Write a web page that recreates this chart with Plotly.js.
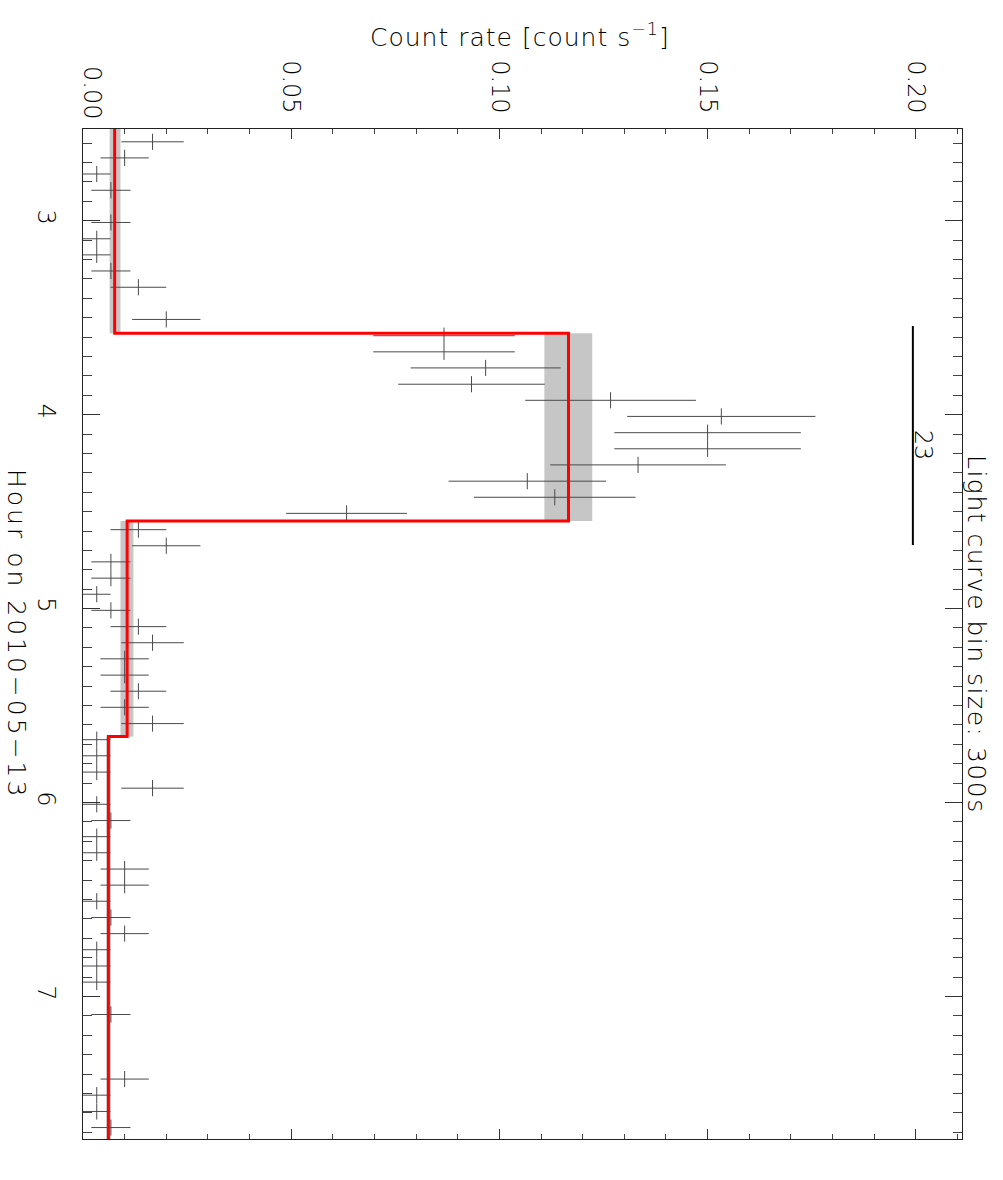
<!DOCTYPE html>
<html>
<head>
<meta charset="utf-8">
<script src="https://cdn.plot.ly/plotly-3.0.1.min.js"></script>
<style>
  html, body { margin: 0; padding: 0; background: #fff; }
  #chart { width: 1003px; height: 1180px; }
</style>
</head>
<body>
<div id="chart"></div>
<script>
// ---- Light-curve bins (hour of day, count rate, 1-sigma error) ----
const binHour = [
  2.593, 2.676, 2.759, 2.843, 3.009, 3.093, 3.176, 3.259, 3.343, 3.509,
  3.593, 3.676, 3.759, 3.843, 3.926, 4.009, 4.093, 4.176, 4.259, 4.343, 4.426, 4.509,
  4.593, 4.676, 4.759, 4.843, 4.926, 5.009, 5.093, 5.176, 5.259, 5.343, 5.426, 5.509, 5.593,
  5.676, 5.759, 5.843, 5.926, 6.009, 6.093, 6.176, 6.259, 6.343, 6.426, 6.509, 6.593,
  6.676, 6.759, 6.843, 6.926, 7.093, 7.426, 7.509, 7.593, 7.676
];
const binRate = [
  0.0167, 0.0100, 0.0033, 0.0067, 0.0067, 0.0033, 0.0033, 0.0067, 0.0133, 0.0200,
  0.0867, 0.0867, 0.0967, 0.0933, 0.1267, 0.1533, 0.1500, 0.1500, 0.1333, 0.1067, 0.1133, 0.0633,
  0.0133, 0.0200, 0.0067, 0.0067, 0.0033, 0.0067, 0.0133, 0.0167, 0.0100, 0.0100, 0.0133, 0.0100, 0.0167,
  0.0033, 0.0033, 0.0033, 0.0167, 0.0033, 0.0067, 0.0033, 0.0033, 0.0100, 0.0100, 0.0033, 0.0067,
  0.0100, 0.0033, 0.0033, 0.0033, 0.0067, 0.0100, 0.0033, 0.0033, 0.0067
];
const binRateErr = [
  0.0075, 0.0058, 0.0033, 0.0047, 0.0047, 0.0033, 0.0033, 0.0047, 0.0067, 0.0082,
  0.0170, 0.0170, 0.0180, 0.0176, 0.0205, 0.0226, 0.0224, 0.0224, 0.0211, 0.0189, 0.0194, 0.0145,
  0.0067, 0.0082, 0.0047, 0.0047, 0.0033, 0.0047, 0.0067, 0.0075, 0.0058, 0.0058, 0.0067, 0.0058, 0.0075,
  0.0033, 0.0033, 0.0033, 0.0075, 0.0033, 0.0047, 0.0033, 0.0033, 0.0058, 0.0058, 0.0033, 0.0047,
  0.0058, 0.0033, 0.0033, 0.0033, 0.0047, 0.0058, 0.0033, 0.0033, 0.0047
];
const binHalfWidthHours = 0.0417;   // 300 s bins

// ---- Bayesian blocks (start, end, rate, rate band) ----
const blockStart = [2.40, 3.580, 4.548, 5.659];
const blockEnd   = [3.580, 4.548, 5.659, 7.90];
const blockRate  = [0.0076, 0.1166, 0.0106, 0.0061];
const blockLo    = [0.0064, 0.1108, 0.0090, 0.0056];
const blockHi    = [0.0090, 0.1223, 0.0121, 0.0067];

// ---- Flare marker ----
const flareBarRate = 0.1993;
const flareBarStart = 3.543;
const flareBarEnd = 4.672;
const flareLabel = '23';
const flareLabelRate = 0.2018;
const flareLabelHour = 4.157;

// ---- Ticks / texts / ranges ----
const rateZero = 0;
const rateZeroLabel = '0.00';
const rateTickVals = [0.05, 0.10, 0.15, 0.20];
const rateTickText = ['0.05', '0.10', '0.15', '0.20'];
const xTitle = 'Count rate [count s<sup>−1</sup>]';
const yTitle = 'Hour on 2010−05−13';
const binText = 'Light curve bin size: 300s';
const rateRange = [0, 0.2111];
const hourRange = [7.735, 2.527];

const FONT = 'DejaVu Sans';

// step line from the blocks
const stepX = [], stepY = [];
for (let i = 0; i < blockRate.length; i++) {
  stepX.push(blockRate[i], blockRate[i]);
  stepY.push(blockStart[i], blockEnd[i]);
}

const traces = [
  {
    type: 'scatter', mode: 'markers',
    x: binRate, y: binHour,
    marker: { size: 1, color: 'rgba(0,0,0,0)' },
    error_x: { type: 'data', array: binRateErr, symmetric: true, color: '#4a4a4a', thickness: 1, width: 0 },
    error_y: { type: 'constant', value: binHalfWidthHours, color: '#4a4a4a', thickness: 1, width: 0 },
    hoverinfo: 'skip'
  },
  {
    type: 'scatter', mode: 'lines',
    x: stepX, y: stepY,
    line: { color: '#ff0000', width: 3 },
    hoverinfo: 'skip'
  }
];

const shapes = blockLo.map((lo, i) => ({
  type: 'rect', xref: 'x', yref: 'y', layer: 'below',
  x0: lo, x1: blockHi[i], y0: blockStart[i], y1: blockEnd[i],
  fillcolor: '#c6c6c6', line: { width: 0 }
}));
shapes.push({
  type: 'line', xref: 'x', yref: 'y',
  x0: flareBarRate, x1: flareBarRate, y0: flareBarStart, y1: flareBarEnd,
  line: { color: '#000', width: 2 }
});

const tickFont = { family: FONT, size: 24, color: '#000', weight: 200 };

const layout = {
  width: 1003, height: 1180,
  margin: { l: 83, r: 41, t: 129, b: 41 },
  paper_bgcolor: '#fff', plot_bgcolor: '#fff',
  showlegend: false,
  font: { family: FONT, size: 24, color: '#000', weight: 200 },
  xaxis: {
    range: rateRange, side: 'top',
    tickmode: 'array', tickvals: rateTickVals, ticktext: rateTickText, tickangle: 90,
    ticks: 'inside', ticklen: 10, tickwidth: 1, tickcolor: '#333',
    tickfont: tickFont, ticklabelstandoff: 6,
    minor: { dtick: 0.01, tick0: 0, ticks: 'inside', ticklen: 5, tickwidth: 1, tickcolor: '#444', showgrid: false },
    showline: true, linecolor: '#222', linewidth: 1, mirror: 'allticks',
    showgrid: false, zeroline: false, fixedrange: true
  },
  yaxis: {
    range: hourRange,
    tick0: 0, dtick: 1, tickangle: 90,
    ticks: 'inside', ticklen: 17, tickwidth: 1, tickcolor: '#333',
    tickfont: tickFont, ticklabelstandoff: 15,
    minor: { dtick: 0.1, ticks: 'inside', ticklen: 9, tickwidth: 1, tickcolor: '#444', showgrid: false },
    showline: true, linecolor: '#222', linewidth: 1, mirror: 'allticks',
    showgrid: false, zeroline: false, fixedrange: true
  },
  shapes: shapes,
  annotations: [
    {
      xref: 'x', yref: 'paper', x: rateZero, y: 1, xshift: 9, yshift: 37,
      xanchor: 'center', yanchor: 'middle', showarrow: false, textangle: 90,
      text: rateZeroLabel, font: tickFont
    },
    {
      xref: 'paper', yref: 'paper', x: 0.4977, y: 1, yshift: 94,
      xanchor: 'center', yanchor: 'middle', showarrow: false,
      text: '<span style="letter-spacing:1px">' + xTitle + '</span>',
      font: { family: FONT, size: 25, color: '#000', weight: 200 }
    },
    {
      xref: 'paper', yref: 'paper', x: 0, y: 0.5, xshift: -66,
      xanchor: 'center', yanchor: 'middle', showarrow: false, textangle: 90,
      text: '<span style="letter-spacing:3px">' + yTitle + '</span>',
      font: { family: FONT, size: 25, color: '#000', weight: 200 }
    },
    {
      xref: 'paper', yref: 'paper', x: 1, y: 0.5, xshift: 15,
      xanchor: 'center', yanchor: 'middle', showarrow: false, textangle: 90,
      text: '<span style="letter-spacing:1.5px">' + binText + '</span>',
      font: { family: FONT, size: 25, color: '#000', weight: 200 }
    },
    {
      xref: 'x', yref: 'y', x: flareLabelRate, y: flareLabelHour,
      xanchor: 'center', yanchor: 'middle', showarrow: false, textangle: 90,
      text: flareLabel,
      font: { family: FONT, size: 24, color: '#000', weight: 200 }
    }
  ]
};

Plotly.newPlot('chart', traces, layout, { displayModeBar: false, staticPlot: true });
</script>
</body>
</html>
